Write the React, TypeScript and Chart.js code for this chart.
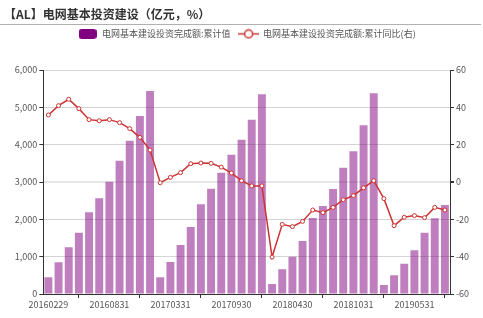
import React, { useEffect, useRef } from 'react';
import { Chart, registerables, layouts } from 'chart.js';

Chart.register(...registerables);

const TITLE = '【AL】电网基本投资建设（亿元，%）';
const BAR_NAME = '电网基本建设投资完成额:累计值';
const LINE_NAME = '电网基本建设投资完成额:累计同比(右)';

const categories = [
  '20160229', '20160331', '20160430', '20160531', '20160630', '20160731', '20160831', '20160930', '20161031', '20161130', '20161231',
  '20170228', '20170331', '20170430', '20170531', '20170630', '20170731', '20170831', '20170930', '20171031', '20171130', '20171231',
  '20180228', '20180331', '20180430', '20180531', '20180630', '20180731', '20180831', '20180930', '20181031', '20181130', '20181231',
  '20190228', '20190331', '20190430', '20190531', '20190630', '20190731', '20190831',
];

const investCumulative = [
  450, 850, 1250, 1643, 2188, 2563, 3009, 3571, 4107, 4768, 5438,
  450, 857, 1313, 1795, 2402, 2821, 3250, 3732, 4134, 4670, 5349,
  268, 661, 1000, 1420, 2036, 2357, 2813, 3384, 3821, 4518, 5375,
  241, 500, 813, 1170, 1643, 2027, 2384,
];

const investYoY = [
  35.9, 40.9, 44.3, 39.3, 33.4, 32.8, 33.4, 31.8, 28.6, 23.9, 17.1,
  -0.4, 2.5, 5.0, 9.8, 10.2, 10.0, 8.0, 4.8, 0.7, -2.1, -2.1,
  -40.2, -22.7, -23.9, -21.1, -15.0, -16.4, -13.6, -9.5, -7.3, -3.1, 0.7,
  -8.9, -23.4, -18.9, -18.0, -19.1, -13.6, -15.0,
];

const LEFT_MIN = 0;
const LEFT_MAX = 6000;
const LEFT_STEP = 1000;
const RIGHT_MIN = -60;
const RIGHT_MAX = 60;
const RIGHT_STEP = 20;
const LABEL_EVERY = 6;

const BAR_COLOR = 'rgba(128,0,128,0.5)';
const BAR_LEGEND = '#800080';
const LINE_COLOR = '#cc3333';
const FONT = '"Microsoft YaHei", "Noto Sans CJK SC", "Noto Sans", sans-serif';

function makeBarIcon(): HTMLCanvasElement {
  const c = document.createElement('canvas');
  c.width = 18;
  c.height = 10;
  const g = c.getContext('2d')!;
  g.fillStyle = BAR_LEGEND;
  g.beginPath();
  const r = 3;
  g.moveTo(r, 0);
  g.lineTo(18 - r, 0);
  g.quadraticCurveTo(18, 0, 18, r);
  g.lineTo(18, 10 - r);
  g.quadraticCurveTo(18, 10, 18 - r, 10);
  g.lineTo(r, 10);
  g.quadraticCurveTo(0, 10, 0, 10 - r);
  g.lineTo(0, r);
  g.quadraticCurveTo(0, 0, r, 0);
  g.closePath();
  g.fill();
  return c;
}

function makeLineIcon(): HTMLCanvasElement {
  const c = document.createElement('canvas');
  c.width = 21;
  c.height = 11;
  const g = c.getContext('2d')!;
  g.strokeStyle = LINE_COLOR;
  g.lineWidth = 1.5;
  g.beginPath();
  g.moveTo(0, 5.5);
  g.lineTo(21, 5.5);
  g.stroke();
  g.beginPath();
  g.arc(10.5, 5.5, 4, 0, Math.PI * 2);
  g.fillStyle = '#fff';
  g.fill();
  g.stroke();
  return c;
}

const SPACER_HEIGHT = 21.6;

const spacerPlugin = {
  id: 'topSpacer',
  beforeInit(chart: any) {
    const box: any = {
      position: 'top',
      weight: 1,
      fullSize: true,
      options: {},
      left: 0,
      top: 0,
      right: 0,
      bottom: 0,
      width: 0,
      height: 0,
      isHorizontal() {
        return true;
      },
      update(maxWidth: number) {
        this.width = maxWidth;
        this.height = SPACER_HEIGHT;
      },
      draw() {},
    };
    layouts.addBox(chart, box);
  },
};

const separatorPlugin = {
  id: 'titleSeparator',
  afterDraw(chart: any) {
    const ctx = chart.ctx;
    ctx.save();
    ctx.strokeStyle = '#b0b0b0';
    ctx.lineWidth = 1;
    ctx.beginPath();
    ctx.moveTo(0, 24.5);
    ctx.lineTo(chart.width - 2, 24.5);
    ctx.stroke();
    ctx.restore();
  },
};

export default function App() {
  const canvasRef = useRef<HTMLCanvasElement | null>(null);

  useEffect(() => {
    document.body.style.margin = '0';
    const canvas = canvasRef.current;
    if (!canvas) return;
    const barIcon = makeBarIcon();
    const lineIcon = makeLineIcon();

    const chart = new Chart(canvas, {
      type: 'bar',
      data: {
        labels: categories,
        datasets: [
          {
            type: 'bar',
            label: BAR_NAME,
            data: investCumulative,
            backgroundColor: BAR_COLOR,
            barPercentage: 0.78,
            categoryPercentage: 1,
            yAxisID: 'y',
            order: 1,
          } as any,
          {
            type: 'line',
            label: LINE_NAME,
            data: investYoY,
            borderColor: LINE_COLOR,
            borderWidth: 1.5,
            pointRadius: 2,
            pointBackgroundColor: '#ffffff',
            pointBorderColor: LINE_COLOR,
            pointBorderWidth: 1,
            tension: 0,
            yAxisID: 'y1',
            order: 0,
          } as any,
        ],
      },
      options: {
        responsive: false,
        animation: false,
        layout: { padding: { left: 4, right: 0, top: 0, bottom: 0 } },
        plugins: {
          tooltip: { enabled: false },
          title: {
            display: true,
            text: TITLE,
            align: 'start',
            color: '#333333',
            font: { size: 12, weight: 'bold', family: FONT, lineHeight: 1.2 },
            padding: { top: 7, bottom: 0 },
          },
          legend: {
            display: true,
            position: 'top',
            align: 'center',
            fullSize: false,
            labels: {
              usePointStyle: true,
              pointStyleWidth: 20,
              padding: 8,
              color: '#555555',
              font: { size: 9, family: FONT },
              generateLabels: () => [
                {
                  text: BAR_NAME,
                  pointStyle: barIcon as any,
                  fillStyle: BAR_LEGEND,
                  strokeStyle: BAR_LEGEND,
                  lineWidth: 0,
                  hidden: false,
                  datasetIndex: 0,
                  fontColor: '#555555',
                },
                {
                  text: LINE_NAME,
                  pointStyle: lineIcon as any,
                  fillStyle: '#ffffff',
                  strokeStyle: LINE_COLOR,
                  lineWidth: 0,
                  hidden: false,
                  datasetIndex: 1,
                  fontColor: '#555555',
                },
              ],
            },
          },
        },
        scales: {
          x: {
            type: 'category',
            offset: true,
            afterFit(scale: any) {
              scale.height = 24;
            },
            border: { display: true, color: '#333333', width: 1 },
            grid: {
              display: true,
              offset: false,
              drawOnChartArea: false,
              drawTicks: true,
              tickLength: 4,
              tickColor: (ctx: any) => (ctx.index % LABEL_EVERY === 3 ? '#333333' : 'rgba(0,0,0,0)'),
            },
            ticks: {
              autoSkip: false,
              maxRotation: 0,
              minRotation: 0,
              padding: 1,
              color: '#555555',
              font: { size: 9, family: FONT },
              callback: (_v: any, i: number) => (i % LABEL_EVERY === 0 ? categories[i] : ''),
            },
          },
          y: {
            type: 'linear',
            position: 'left',
            min: LEFT_MIN,
            max: LEFT_MAX,
            afterFit(scale: any) {
              scale.width = 39.3;
            },
            border: { display: true, color: '#333333', width: 1 },
            grid: {
              color: (ctx: any) =>
                ctx.tick && ctx.tick.value === 3000 ? 'rgba(0,0,0,0)' : '#d4d4d4',
              tickColor: '#333333',
              tickLength: 4,
            },
            ticks: {
              stepSize: LEFT_STEP,
              padding: 2,
              color: '#555555',
              font: { size: 9, family: FONT },
              callback: (v: any) => Number(v).toLocaleString('en-US'),
            },
          },
          y1: {
            type: 'linear',
            position: 'right',
            min: RIGHT_MIN,
            max: RIGHT_MAX,
            afterFit(scale: any) {
              scale.width = 33;
            },
            border: { display: true, color: '#333333', width: 1 },
            grid: {
              color: (ctx: any) => (ctx.tick && ctx.tick.value === 0 ? '#e6e6e6' : 'rgba(0,0,0,0)'),
              lineWidth: (ctx: any) => (ctx.tick && ctx.tick.value === 0 ? 2 : 1),
              tickColor: '#333333',
              tickLength: 4,
            },
            ticks: {
              stepSize: RIGHT_STEP,
              padding: 2,
              color: '#555555',
              font: { size: 9, family: FONT },
            },
          },
        },
      } as any,
      plugins: [spacerPlugin as any, separatorPlugin as any],
    });

    return () => {
      chart.destroy();
    };
  }, []);

  return (
    <div style={{ width: 483, height: 318, position: 'relative' }}>
      <canvas ref={canvasRef} width={483} height={318} style={{ display: 'block' }} />
    </div>
  );
}
